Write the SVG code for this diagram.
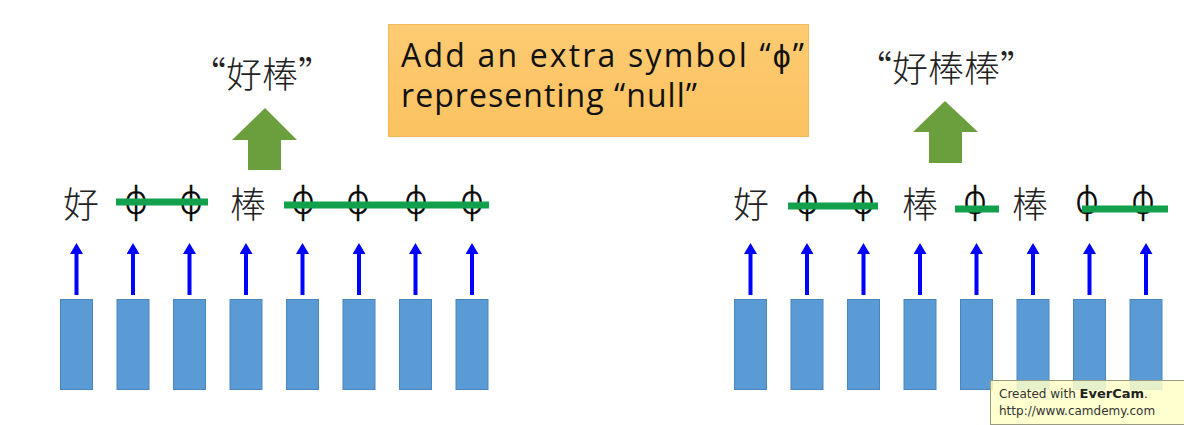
<svg xmlns="http://www.w3.org/2000/svg" width="1184" height="425" viewBox="0 0 1184 425">
<defs>
<style>
.cell{fill:#5B9BD5;stroke:#4A84BC;stroke-width:1}
.cjk{font-family:"Noto Sans CJK TC","Noto Sans CJK SC",sans-serif;font-weight:300;font-size:36px;fill:#222;text-anchor:middle}
.phi{font-family:"Open Sans","DejaVu Sans",sans-serif;font-weight:300;font-size:38px;fill:#000;text-anchor:middle;stroke:#000;stroke-width:0.6}
.null{stroke:#12A04C;stroke-width:7;fill:none}
.ar{stroke:#0000FF;stroke-width:4;fill:none;marker-end:url(#ah)}
.big{fill:#6B9F3E}
.note{font-family:"Open Sans","Liberation Sans",sans-serif;font-size:32px;fill:#111;font-variant-ligatures:none}
.wm{font-family:"DejaVu Sans",sans-serif;font-size:12px;fill:#333}
</style>
<marker id="ah" viewBox="0 0 11 13" refX="0" refY="6.5" markerWidth="11" markerHeight="13" orient="auto" markerUnits="userSpaceOnUse">
<path d="M0,0 L11,6.5 L0,13 Z" fill="#0000FF"/>
</marker>
<linearGradient id="yg" x1="0" y1="0" x2="0" y2="1">
<stop offset="0" stop-color="#FDCB72"/>
<stop offset="1" stop-color="#FBC260"/>
</linearGradient>
</defs>
<rect width="1184" height="425" fill="#ffffff"/>

<g id="note">
<rect x="388.5" y="24.5" width="420" height="112" fill="url(#yg)" stroke="#F2B95A" stroke-width="1"/>
<text class="note" x="401" y="67" textLength="403" lengthAdjust="spacing">Add an extra symbol “ϕ”</text>
<text class="note" x="401" y="107" textLength="296" lengthAdjust="spacing">representing “null”</text>
</g>

<g id="out-left">
<text class="cjk" x="262" y="88" font-size="41">“好棒”</text>
<path class="big" d="M265,108 L297,140 L281,140 L281,170 L248,170 L248,140 L232,140 Z"/>
</g>
<g id="out-right">
<text class="cjk" x="946" y="82" font-size="41">“好棒棒”</text>
<path class="big" d="M945,101 L978,132 L962,132 L962,163 L929,163 L929,132 L913,132 Z"/>
</g>

<g id="labels-left">
<text class="cjk" x="81" y="218">好</text>
<text class="phi" x="136" y="213">ϕ</text>
<text class="phi" x="191" y="213">ϕ</text>
<text class="cjk" x="248" y="218">棒</text>
<text class="phi" x="303" y="213">ϕ</text>
<text class="phi" x="358" y="213">ϕ</text>
<text class="phi" x="416" y="213">ϕ</text>
<text class="phi" x="472" y="213">ϕ</text>
<line class="null" x1="116" y1="202" x2="208" y2="202"/>
<line class="null" x1="284" y1="205" x2="489" y2="205"/>
</g>
<g id="labels-right">
<text class="cjk" x="751" y="218">好</text>
<text class="phi" x="807" y="213">ϕ</text>
<text class="phi" x="863" y="213">ϕ</text>
<text class="cjk" x="920" y="218">棒</text>
<text class="phi" x="975" y="213">ϕ</text>
<text class="cjk" x="1030" y="218">棒</text>
<text class="phi" x="1087" y="213">ϕ</text>
<text class="phi" x="1143" y="213">ϕ</text>
<line class="null" x1="788" y1="206" x2="878" y2="206"/>
<line class="null" x1="955" y1="209" x2="999" y2="209"/>
<line class="null" x1="1082" y1="209" x2="1168" y2="209"/>
</g>

<g id="cells-left">
<rect class="cell" x="60.5" y="299.5" width="32" height="90"/>
<rect class="cell" x="117" y="299.5" width="32" height="90"/>
<rect class="cell" x="173.5" y="299.5" width="32" height="90"/>
<rect class="cell" x="230" y="299.5" width="32" height="90"/>
<rect class="cell" x="286.5" y="299.5" width="32" height="90"/>
<rect class="cell" x="343" y="299.5" width="32" height="90"/>
<rect class="cell" x="399.5" y="299.5" width="32" height="90"/>
<rect class="cell" x="456" y="299.5" width="32" height="90"/>
</g>
<g id="cells-right">
<rect class="cell" x="734.5" y="299.5" width="32" height="90"/>
<rect class="cell" x="791" y="299.5" width="32" height="90"/>
<rect class="cell" x="847.5" y="299.5" width="32" height="90"/>
<rect class="cell" x="904" y="299.5" width="32" height="90"/>
<rect class="cell" x="960.5" y="299.5" width="32" height="90"/>
<rect class="cell" x="1017" y="299.5" width="32" height="90"/>
<rect class="cell" x="1073.5" y="299.5" width="32" height="90"/>
<rect class="cell" x="1130" y="299.5" width="32" height="90"/>
</g>

<g id="connectors">
<path class="ar" d="M76.5,295 V254"/>
<path class="ar" d="M133,295 V254"/>
<path class="ar" d="M189.5,295 V254"/>
<path class="ar" d="M246,295 V254"/>
<path class="ar" d="M302.5,295 V254"/>
<path class="ar" d="M359,295 V254"/>
<path class="ar" d="M415.5,295 V254"/>
<path class="ar" d="M472,295 V254"/>
<path class="ar" d="M750.5,295 V254"/>
<path class="ar" d="M807,295 V254"/>
<path class="ar" d="M863.5,295 V254"/>
<path class="ar" d="M920,295 V254"/>
<path class="ar" d="M976.5,295 V254"/>
<path class="ar" d="M1033,295 V254"/>
<path class="ar" d="M1089.5,295 V254"/>
<path class="ar" d="M1146,295 V254"/>
</g>

<g id="watermark">
<rect x="990.5" y="380.5" width="200" height="44" fill="#FFFFC8" fill-opacity="0.85" stroke="#9A9A80" stroke-width="1"/>
<text class="wm" x="999" y="398">Created with <tspan font-weight="bold" font-size="13px" fill="#222">EverCam</tspan>.</text>
<text class="wm" x="999" y="415">http://www.camdemy.com</text>
</g>
</svg>
